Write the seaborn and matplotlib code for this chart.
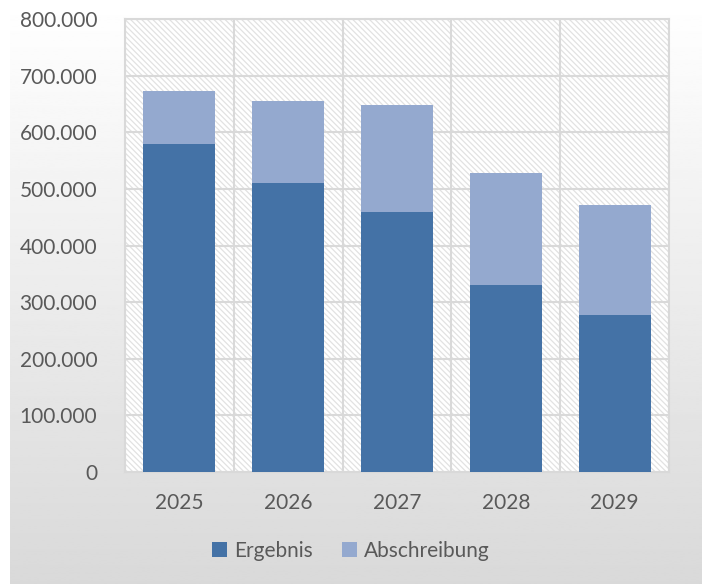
import numpy as np
import matplotlib.pyplot as plt
import matplotlib.ticker as mticker
from matplotlib.patches import Rectangle
import seaborn as sns

years = ["2025", "2026", "2027", "2028", "2029"]
ergebnis = [579000, 510000, 460000, 330000, 278000]
abschreibung = [93000, 145000, 189000, 198000, 194000]

total = [e + a for e, a in zip(ergebnis, abschreibung)]

dark = "#4472a6"
light = "#94a9cf"
grid_c = "#d9d9d9"
text_c = "#595959"

sns.set_style("white")
plt.rcParams["font.family"] = ["Lato", "DejaVu Sans"]
plt.rcParams["hatch.linewidth"] = 0.9

fig = plt.figure(figsize=(7.02, 5.84), dpi=100)

# gradient backdrop (white at the top, light grey at the bottom)
bg = fig.add_axes([10 / 702, 0, 1 - 10 / 702, 1], zorder=-10)
grad = np.linspace(1.0, 217 / 255, 256).reshape(-1, 1)
bg.imshow(grad, aspect="auto", cmap="gray", vmin=0, vmax=1, extent=[0, 1, 0, 1])
bg.axis("off")

ax = fig.add_axes([125 / 702, 1 - 472 / 584, (669 - 125) / 702, (472 - 19) / 584])
ax.set_facecolor("white")

# diagonal hatch on the plot area
ax.add_patch(Rectangle((0, 0), 1, 1, transform=ax.transAxes, facecolor="white",
                       edgecolor="#e2e2e2", hatch="\\\\\\\\\\\\", linewidth=0.01,
                       zorder=0))

sns.barplot(x=years, y=total, color=light, width=0.66, linewidth=0,
            saturation=1, ax=ax, label="Abschreibung", zorder=2)
sns.barplot(x=years, y=ergebnis, color=dark, width=0.66, linewidth=0,
            saturation=1, ax=ax, label="Ergebnis", zorder=3)

ax.set_ylim(0, 800000)
ax.set_xlim(-0.5, 4.5)
ax.yaxis.set_major_locator(mticker.MultipleLocator(100000))
ax.yaxis.set_major_formatter(mticker.FuncFormatter(
    lambda v, p: f"{int(v):,}".replace(",", ".")))
ax.set_xticks(range(len(years)))
ax.set_xticklabels(years)
ax.xaxis.set_minor_locator(mticker.FixedLocator(np.arange(-0.5, 5, 1)))
ax.set_axisbelow(True)
ax.grid(axis="y", color=grid_c, linewidth=1.5, zorder=1)
ax.grid(axis="x", which="minor", color=grid_c, linewidth=1.5, zorder=1)
ax.grid(axis="x", which="major", visible=False)
for s in ax.spines.values():
    s.set_color(grid_c)
    s.set_linewidth(1.5)
ax.tick_params(axis="both", which="both", length=0, colors=text_c, labelsize=15)
ax.tick_params(axis="y", pad=20)
ax.tick_params(axis="x", pad=15)
ax.set_xlabel("")
ax.set_ylabel("")

handles, labels = ax.get_legend_handles_labels()
order = [labels.index("Ergebnis"), labels.index("Abschreibung")]
ax.legend([handles[i] for i in order], [labels[i] for i in order],
          loc="center", bbox_to_anchor=(0.5, 1 - 551 / 584),
          bbox_transform=fig.transFigure, ncol=2, frameon=False,
          fontsize=15, labelcolor=text_c, handlelength=0.7, handleheight=0.7,
          handletextpad=0.35, columnspacing=1.4)

fig.savefig("out.png", dpi=100)
